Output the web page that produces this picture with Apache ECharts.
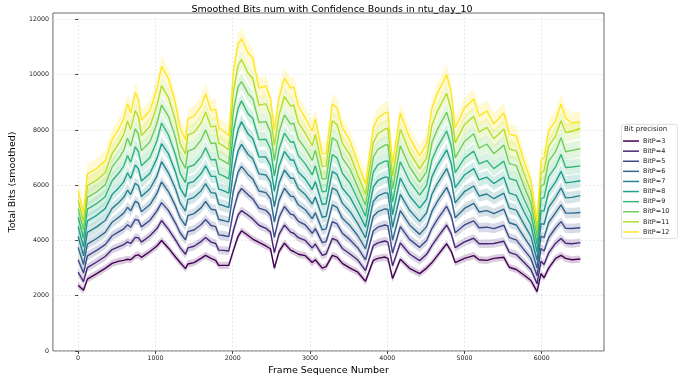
<!DOCTYPE html>
<html>
<head>
<meta charset="utf-8">
<script src="https://cdn.jsdelivr.net/npm/echarts@6/dist/echarts.min.js"></script>
<style>
  html, body { margin: 0; padding: 0; background: #fff; }
  #chart { width: 694px; height: 382px; }
</style>
</head>
<body>
<div id="chart"></div>
<script>
// frame positions where the smoothed curves were read
const frames = [0,70,120,240,350,440,530,590,640,680, 740,780,820,930,1020,1080,1170,1260,1320,1390,
  1420,1500,1590,1650,1720,1780,1820,1880,1950,2010, 2070,2115,2200,2260,2340,2430,2490,2540,2600,2670,
  2750,2790,2850,2940,3030,3070,3160,3210,3290,3350, 3420,3520,3620,3720,3820,3880,3970,4010,4070,4170,
  4290,4420,4510,4580,4650,4770,4830,4880,5000,5120, 5190,5290,5380,5510,5580,5670,5770,5860,5940,5990,
  6030,6090,6180,6250,6310,6390,6500];

const bitP3 = [2380,2200,2600,2800,2990,3170,3250,3280,3320,3300, 3450,3480,3390,3600,3800,4000,3720,3400,3200,2980,
  3150,3200,3350,3460,3350,3280,3100,3100,3100,3640, 4150,4350,4180,4050,3930,3800,3700,3000,3600,3900,
  3650,3600,3500,3450,3200,3300,3000,3050,3460,3400, 3170,3000,2850,2520,3280,3350,3400,3350,2620,3320,
  2990,2800,3000,3200,3450,3880,3600,3200,3350,3450, 3300,3280,3350,3390,3030,2950,2750,2550,2150,2800,
  2650,3000,3350,3460,3350,3300,3330];
const bitP4 = [2850,2510,3020,3220,3420,3670,3780,3850,3950,3890, 4110,4100,3940,4170,4430,4720,4400,4020,3740,3500,
  3730,3790,3960,4110,3940,3890,3650,3640,3620,4360, 4920,5080,4910,4780,4550,4440,4300,3560,4220,4560,
  4300,4260,4100,4000,3730,3870,3460,3510,4070,4000, 3710,3510,3290,2910,3810,3910,3980,3940,3080,3910,
  3510,3270,3500,3820,4100,4560,4240,3740,3950,4080, 3880,3880,3890,3970,3570,3490,3210,2950,2430,3250,
  3130,3550,3900,4070,3900,3880,3920];
const bitP5 = [3300,2820,3440,3640,3850,4170,4320,4420,4570,4480, 4760,4730,4490,4730,5070,5370,5080,4630,4280,4020,
  4320,4380,4570,4760,4540,4500,4200,4180,4140,5080, 5690,5880,5650,5510,5170,5090,4900,4110,4830,5230,
  4950,4920,4690,4560,4260,4430,3920,3960,4680,4600, 4260,4020,3730,3300,4340,4480,4560,4530,3540,4500,
  4040,3750,4000,4440,4760,5240,4870,4280,4560,4710, 4460,4480,4430,4550,4100,4020,3670,3350,2720,3710,
  3620,4100,4460,4680,4440,4430,4460];
const bitP6 = [3750,3130,3870,4070,4290,4660,4850,4990,5200,5070, 5420,5350,5040,5300,5700,6120,5760,5250,4820,4540,
  4900,4970,5180,5410,5130,5100,4760,4720,4670,5800, 6470,6680,6380,6230,5790,5730,5510,4670,5450,5890,
  5600,5590,5290,5110,4790,5000,4380,4420,5290,5200, 4800,4530,4170,3700,4880,5040,5140,5120,4010,5080,
  4560,4220,4500,5060,5410,5920,5510,4820,5160,5340, 5030,5080,4970,5130,4640,4560,4130,3750,3000,4160,
  4100,4650,5010,5290,4990,4990,5010];
const bitP7 = [4150,3440,4290,4490,4720,5160,5380,5560,5820,5660, 6070,5980,5590,5870,6330,6850,6440,5870,5360,5060,
  5480,5560,5790,6060,5730,5710,5310,5260,5190,6520, 7240,7480,7110,6960,6410,6370,6110,5220,6070,6550,
  6250,6250,5880,5660,5320,5570,4840,4870,5900,5800, 5350,5040,4610,4090,5410,5610,5720,5710,4470,5670,
  5090,4690,5000,5680,6060,6600,6150,5360,5770,5970, 5610,5680,5510,5710,5170,5100,4590,4150,3280,4610,
  4580,5200,5560,5900,5540,5560,5620];
const bitP8 = [4500,3760,4710,4910,5150,5660,5920,6120,6450,6240, 6730,6600,6150,6430,6970,7500,7130,6480,5890,5570,
  6070,6140,6410,6700,6320,6320,5860,5800,5710,7250, 8010,8300,7850,7690,7030,7020,6710,5780,6680,7220,
  6910,6910,6480,6220,5840,6130,5300,5330,6500,6390, 5890,5560,5040,4480,5940,6170,6290,6290,4930,6260,
  5610,5170,5490,6310,6720,7280,6780,5910,6370,6600, 6190,6290,6060,6290,5710,5630,5040,4560,3570,5070,
  5070,5760,6120,6500,6090,6110,6160];
const bitP9 = [4850,4070,5130,5330,5580,6160,6450,6690,7070,6830, 7390,7220,6700,7000,7600,8250,7810,7100,6430,6090,
  6650,6730,7020,7350,6920,6930,6410,6340,6230,7970, 8780,9050,8580,8420,7650,7660,7310,6330,7300,7880,
  7560,7570,7070,6770,6370,6700,5760,5780,7110,6990, 6430,6070,5480,4870,6470,6740,6870,6880,5390,6850,
  6140,5640,5990,6930,7370,7960,7420,6450,6980,7230, 6770,6890,6600,6870,6240,6170,5500,4960,3850,5520,
  5550,6310,6670,7110,6640,6660,6700];
const bitP10 = [5150,4380,5560,5760,6010,6660,6980,7260,7700,7420, 8040,7850,7250,7570,8230,8900,8490,7720,6970,6610,
  7230,7320,7630,8000,7510,7530,6970,6880,6760,8690, 9560,9750,9310,9140,8270,8300,7920,6890,7920,8540,
  8210,8240,7670,7320,6900,7270,6220,6240,7720,7590, 6980,6580,5920,5270,7010,7300,7450,7470,5860,7430,
  6660,6110,6490,7550,8020,8640,8060,6990,7580,7860, 7340,7490,7140,7450,6780,6710,5960,5360,4130,5970,
  6030,6860,7220,7720,7210,7260,7320];
const bitP11 = [5450,4690,5980,6180,6450,7150,7520,7830,8320,8010, 8700,8470,7800,8130,8870,9600,9170,8330,7510,7130,
  7820,7910,8240,8650,8110,8140,7520,7420,7280,9410, 10330,10550,10050,9870,8890,8950,8520,7440,8530,9210,
  8860,8900,8260,7880,7430,7830,6680,6690,8330,8190, 7520,7090,6360,5660,7540,7870,8030,8060,6320,8020,
  7190,6590,6990,8170,8680,9320,8690,7530,8190,8490, 7920,8090,7680,8030,7310,7240,6420,5760,4420,6430,
  6520,7410,7780,8330,7900,7950,8050];
const bitP12 = [5800,5000,6400,6600,6880,7650,8050,8400,8950,8600, 9350,9100,8350,8700,9500,10300,9850,8950,8050,7650,
  8400,8500,8850,9300,8700,8750,8070,7960,7800,10130, 11100,11300,10780,10600,9510,9590,9120,8000,9150,9870,
  9510,9560,8860,8430,7960,8400,7140,7150,8940,8790, 8070,7600,6800,6050,8070,8430,8610,8650,6780,8610,
  7710,7060,7490,8790,9330,10000,9330,8070,8790,9120, 8500,8690,8220,8610,7850,7780,6880,6160,4700,6880,
  7000,7960,8330,8940,8430,8250,8280];

// half width of the confidence band for each precision
const bandHalf = [130, 150, 170, 190, 210, 240, 270, 300, 330, 380];
const precisions = [3, 4, 5, 6, 7, 8, 9, 10, 11, 12];
const xTicks = [0, 1000, 2000, 3000, 4000, 5000, 6000];
const yTicks = [0, 2000, 4000, 6000, 8000, 10000, 12000];

const allBits = [bitP3, bitP4, bitP5, bitP6, bitP7, bitP8, bitP9, bitP10, bitP11, bitP12];
// viridis
const colors = ['#440154', '#482878', '#3e4989', '#31688e', '#26828e',
  '#1f9e89', '#35b779', '#6ece58', '#b5de2b', '#fde725'];

const FONT = 'DejaVu Sans';
const chart = echarts.init(document.getElementById('chart'));

// band polygon: upper edge left->right, lower edge right->left
const bandSeries = (vals, k) => ({
  name: 'band' + k, type: 'custom', silent: true, z: 1,
  data: [[0]],
  renderItem: (params, api) => {
    const h = bandHalf[k];
    const upper = frames.map((f, i) => api.coord([f, vals[i] + h]));
    const lower = frames.map((f, i) => api.coord([f, vals[i] - h])).reverse();
    return {
      type: 'polygon',
      shape: { points: upper.concat(lower) },
      style: { fill: colors[k], opacity: 0.2 },
    };
  },
});

const series = [];
allBits.forEach((vals, k) => series.push(bandSeries(vals, k)));
allBits.forEach((vals, k) => {
  series.push({
    name: 'BitP=' + precisions[k], type: 'line', symbol: 'none',
    data: frames.map((f, i) => [f, vals[i]]),
    lineStyle: { color: colors[k], width: 1.4 },
    itemStyle: { color: colors[k] }, z: 3,
  });
});

const option = {
  animation: false,
  textStyle: { fontFamily: FONT },
  title: {
    text: 'Smoothed Bits num with Confidence Bounds in ntu_day_10',
    left: 327, top: 0, textAlign: 'center',
    textStyle: { fontFamily: FONT, fontSize: 9.5, fontWeight: 'normal', color: '#000' },
  },
  grid: {
    left: 51, right: 90, top: 13, bottom: 31,
    show: true, borderColor: '#444', borderWidth: 0.8,
  },
  xAxis: {
    type: 'value', min: -326, max: 6806,
    name: 'Frame Sequence Number', nameLocation: 'middle', nameGap: 13,
    nameTextStyle: { fontFamily: FONT, fontSize: 9.5, color: '#000' },
    axisLine: { show: false },
    axisTick: { show: true, length: 3, customValues: xTicks, lineStyle: { color: '#444' } },
    axisLabel: { customValues: xTicks, fontSize: 6.3, color: '#222', margin: 4, formatter: (v) => String(v) },
    splitLine: { show: true, lineStyle: { color: '#ddd', type: [2, 2], width: 0.6 } },
  },
  yAxis: {
    type: 'value', min: 0, max: 12230,
    name: 'Total Bits (smoothed)', nameLocation: 'middle', nameGap: 29, nameRotate: 90,
    nameTextStyle: { fontFamily: FONT, fontSize: 9.5, color: '#000' },
    axisLine: { show: false },
    axisTick: { show: true, length: 3, customValues: yTicks, lineStyle: { color: '#444' } },
    axisLabel: { customValues: yTicks, fontSize: 6.3, color: '#222', margin: 4, formatter: (v) => String(v) },
    splitLine: { show: true, lineStyle: { color: '#ddd', type: [2, 2], width: 0.6 } },
  },
  legend: {
    data: precisions.map((p) => 'BitP=' + p),
    orient: 'vertical', left: 623, top: 136,
    icon: 'rect', itemWidth: 16, itemHeight: 1.5, itemGap: 0,
    textStyle: { fontFamily: FONT, fontSize: 6.5, lineHeight: 10.1, color: '#222', padding: [0, 0, 0, -1] },
    padding: 0,
  },
  graphic: [
    {
      type: 'rect', left: 621, top: 124, z: -1,
      shape: { width: 56, height: 114, r: 2 },
      style: { fill: '#fff', stroke: '#d6d6d6', lineWidth: 0.8 },
    },
    {
      type: 'text', left: 624, top: 126,
      style: { text: 'Bit precision', font: '7px "DejaVu Sans"', fill: '#222' },
    },
  ],
  series,
};
chart.setOption(option);
</script>
</body>
</html>
